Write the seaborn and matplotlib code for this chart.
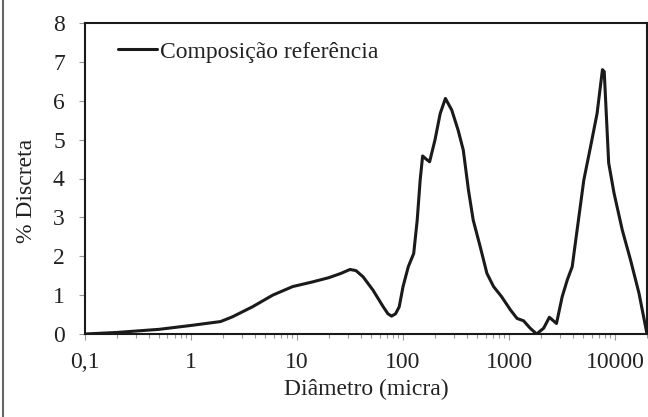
import matplotlib
matplotlib.use("Agg")
import matplotlib.pyplot as plt
import matplotlib.ticker as mticker
from matplotlib.lines import Line2D
import seaborn as sns
import pandas as pd

# Data
diametro = [0.1, 0.2, 0.5, 1.0, 1.9, 2.45, 3.8, 5.9, 9.1, 14, 20, 26, 31.6, 36, 42, 52, 65,
            72, 78, 85, 92, 100, 112, 126, 136, 145, 153, 165, 178, 200, 224, 251, 288,
            331, 370, 414, 459, 535, 618, 714, 850, 1030, 1190, 1370, 1580, 1820, 2120,
            2400, 2800, 3170, 3540, 3940, 4380, 5070, 5860, 6760, 7600, 7900, 8700, 9780,
            11700, 14000, 16800, 20000]
discreta = [0.0, 0.04, 0.12, 0.22, 0.32, 0.44, 0.70, 1.00, 1.22, 1.34, 1.45, 1.56, 1.66, 1.63,
            1.47, 1.13, 0.70, 0.52, 0.46, 0.52, 0.70, 1.22, 1.73, 2.07, 2.93, 3.96, 4.58,
            4.50, 4.43, 4.99, 5.67, 6.06, 5.76, 5.24, 4.73, 3.70, 2.93, 2.24, 1.56, 1.22,
            0.96, 0.62, 0.40, 0.34, 0.15, 0.0, 0.15, 0.43, 0.27, 0.96, 1.39, 1.73, 2.67,
            3.96, 4.81, 5.67, 6.80, 6.75, 4.40, 3.62, 2.67, 1.90, 1.05, 0.0]
serie = "Composição referência"
x_ticks = [0.1, 1, 10, 100, 1000, 10000]
x_tick_labels = ["0,1", "1", "10", "100", "1000", "10000"]
y_ticks = [0, 1, 2, 3, 4, 5, 6, 7, 8]

df = pd.DataFrame({"Diâmetro": diametro, "Discreta": discreta})

sns.set_style("ticks")
plt.rcParams["font.family"] = ["Liberation Serif", "DejaVu Serif"]
plt.rcParams["font.size"] = 17

fig = plt.figure(figsize=(6.48, 4.17), dpi=100)
ax = fig.add_axes([85 / 648, 83 / 417, 562 / 648, 311 / 417])

sns.lineplot(data=df, x="Diâmetro", y="Discreta", ax=ax, color="#1a1a1a",
             linewidth=2.2, label=serie)

ax.set_xscale("log")
ax.set_xlim(0.1, 20000)
ax.set_ylim(0, 8)
ax.set_xticks(x_ticks)
ax.set_xticklabels(x_tick_labels)
ax.xaxis.set_minor_locator(mticker.LogLocator(base=10, subs=range(2, 10), numticks=20))
ax.xaxis.set_minor_formatter(mticker.NullFormatter())
ax.set_yticks(y_ticks)

for s in ax.spines.values():
    s.set_visible(True)
    s.set_color("#1a1a1a")
    s.set_linewidth(1.5)

ax.tick_params(axis="y", which="major", direction="out", length=4.5, width=0.8,
               color="#999999", pad=10, labelsize=17, labelcolor="#222222")
ax.tick_params(axis="x", which="major", direction="out", length=4, width=0.8,
               color="#999999", pad=9, labelsize=17, labelcolor="#222222")
ax.tick_params(axis="x", which="minor", direction="out", length=3, width=0.8,
               color="#999999")

ax.set_xlabel("Diâmetro (micra)", fontsize=17, color="#222222", labelpad=4)
ax.set_ylabel("% Discreta", fontsize=17, color="#222222")
ax.yaxis.set_label_coords(-0.085, 0.46)

leg = ax.legend(loc="center left", bbox_to_anchor=(0.0587, 0.907), frameon=False,
                borderpad=0, borderaxespad=0, handlelength=1.65, handletextpad=0.13,
                fontsize=17)
for t in leg.get_texts():
    t.set_color("#222222")

fig.add_artist(Line2D([3 / 648, 3 / 648], [0, 1], transform=fig.transFigure,
                      color="#666666", linewidth=1.5))

fig.savefig("out.png", dpi=100)
